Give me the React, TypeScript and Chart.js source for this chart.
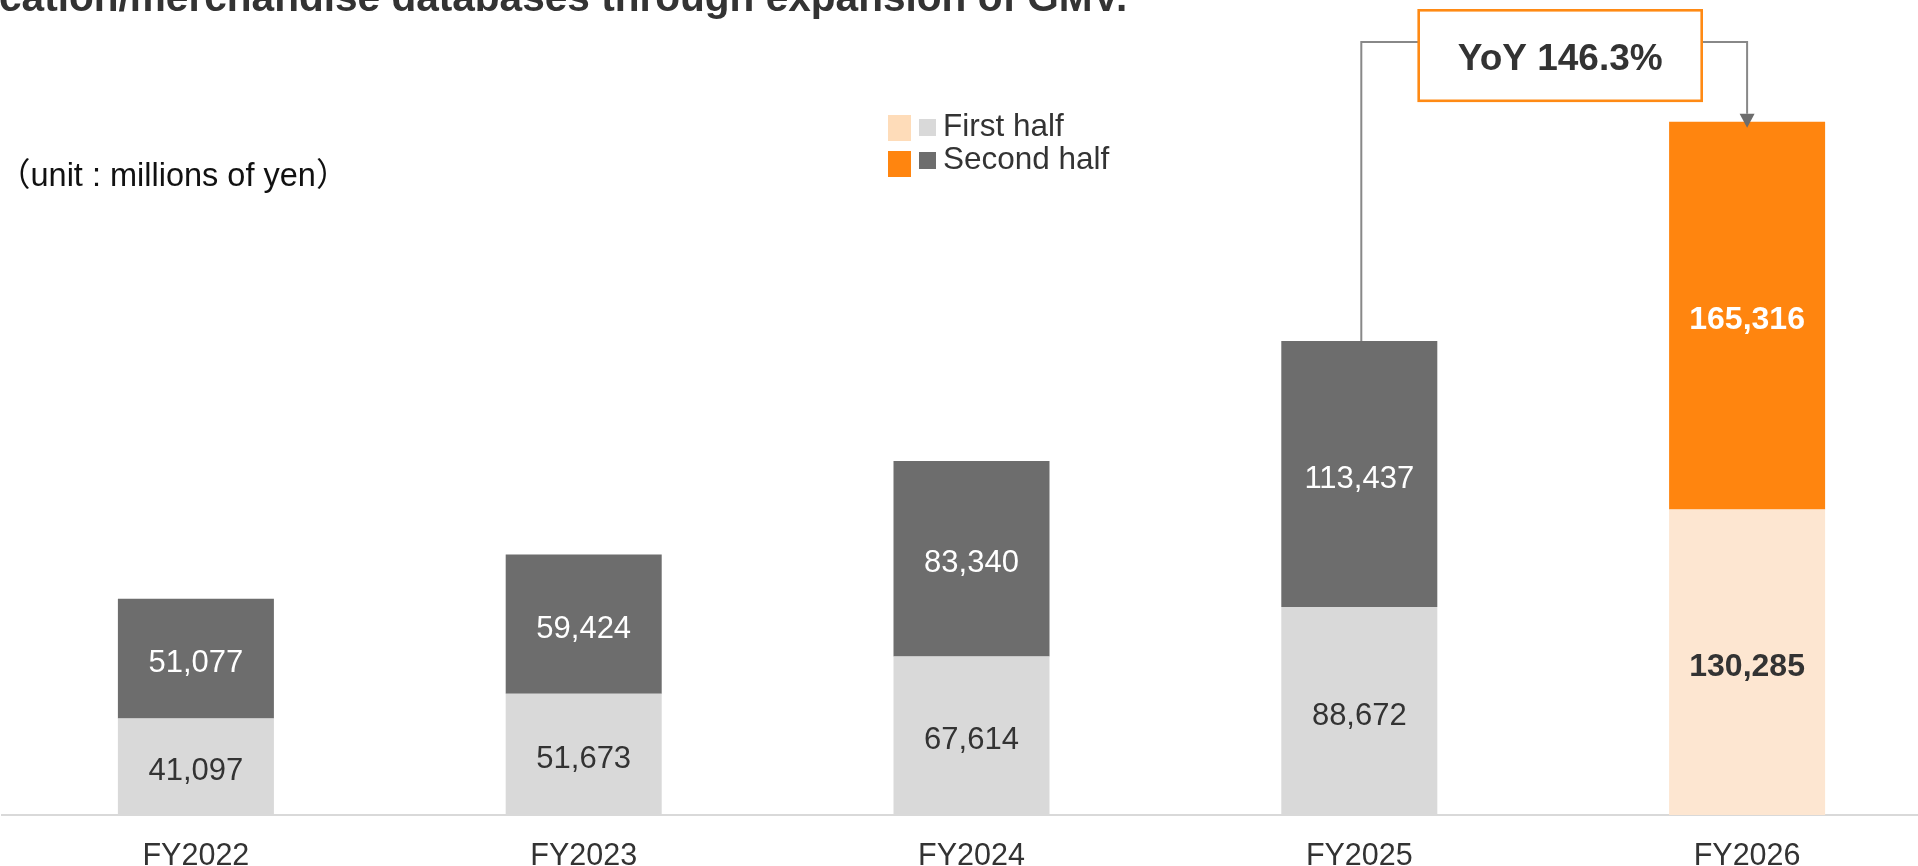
import React, { useEffect, useRef } from 'react';
import { Chart, registerables } from 'chart.js';

Chart.register(...registerables);

// ---- data ----
const categories = ['FY2022', 'FY2023', 'FY2024', 'FY2025', 'FY2026'];
const firstHalf = [41097, 51673, 67614, 88672, 130285];
const secondHalf = [51077, 59424, 83340, 113437, 165316];
const legendLabels = ['First half', 'Second half'];
const yoyLabel = 'YoY 146.3%';
const unitLabel = '（unit : millions of yen）';
const titleText = 'cation/merchandise databases through expansion of GMV.';
const yMax = 347500;

// ---- styles ----
const FONT = "'Liberation Sans', Arial, 'Noto Sans CJK JP', sans-serif";
const GRAY_LIGHT = '#d9d9d9';
const GRAY_DARK = '#6d6d6d';
const PEACH = '#fde6d1';
const ORANGE = '#ff850f';
const TEXT = '#333333';
const W = 1941;
const H = 866;

const firstColors = categories.map((_, i) => (i === categories.length - 1 ? PEACH : GRAY_LIGHT));
const secondColors = categories.map((_, i) => (i === categories.length - 1 ? ORANGE : GRAY_DARK));

const labelPlugin = {
  id: 'barLabels',
  afterDatasetsDraw(chart: any) {
    const ctx = chart.ctx;
    ctx.save();
    chart.data.datasets.forEach((ds: any, di: number) => {
      const meta = chart.getDatasetMeta(di);
      meta.data.forEach((bar: any, i: number) => {
        const p = bar.getProps(['x', 'y', 'base'], true);
        const hl = i === categories.length - 1;
        ctx.font = `${hl ? 'bold 32px' : '31px'} ${FONT}`;
        ctx.fillStyle = di === 0 ? TEXT : '#ffffff';
        ctx.textAlign = 'center';
        ctx.textBaseline = 'middle';
        ctx.fillText(Number(ds.data[i]).toLocaleString('en-US'), p.x, (p.y + p.base) / 2 + 5);
      });
    });
    ctx.restore();
  },
};

const decorPlugin = {
  id: 'decor',
  afterDraw(chart: any) {
    const ctx = chart.ctx;
    const xs = chart.scales.x;
    const ys = chart.scales.y;
    ctx.save();

    // title (cropped)
    ctx.font = `bold 40.6px ${FONT}`;
    ctx.fillStyle = TEXT;
    ctx.textAlign = 'left';
    ctx.textBaseline = 'alphabetic';
    ctx.fillText(titleText, -1, 11);

    // unit label
    ctx.font = `32.5px ${FONT}`;
    ctx.fillStyle = '#111111';
    ctx.fillText(unitLabel, -2, 186);

    // legend
    const rows = [
      { big: '#fedcb9', small: GRAY_LIGHT, top: 115, base: 136 },
      { big: ORANGE, small: GRAY_DARK, top: 151, base: 169 },
    ];
    rows.forEach((r, i) => {
      ctx.fillStyle = r.big;
      ctx.fillRect(888, r.top, 23, 26);
      ctx.fillStyle = r.small;
      ctx.fillRect(919, r.base - 17, 17, 17);
      ctx.fillStyle = TEXT;
      ctx.font = `31.5px ${FONT}`;
      ctx.fillText(legendLabels[i], 943, r.base);
    });

    // YoY annotation
    const n = categories.length;
    const x25 = xs.getPixelForValue(n - 2);
    const x26 = xs.getPixelForValue(n - 1);
    const y25 = ys.getPixelForValue(firstHalf[n - 2] + secondHalf[n - 2]);
    const y26 = ys.getPixelForValue(firstHalf[n - 1] + secondHalf[n - 1]);
    const cx = (x25 + x26) / 2 + 7;
    const bw = 283;
    const left = cx - bw / 2;
    const top = 10.3;
    const bh = 90.5;
    const lineY = 42;

    ctx.strokeStyle = '#888888';
    ctx.lineWidth = 2;
    ctx.beginPath();
    ctx.moveTo(left, lineY);
    ctx.lineTo(x25 + 2, lineY);
    ctx.lineTo(x25 + 2, y25);
    ctx.stroke();
    ctx.beginPath();
    ctx.moveTo(left + bw, lineY);
    ctx.lineTo(x26, lineY);
    ctx.lineTo(x26, y26 - 8);
    ctx.stroke();
    ctx.fillStyle = GRAY_DARK;
    ctx.beginPath();
    ctx.moveTo(x26 - 7.5, y26 - 8);
    ctx.lineTo(x26 + 7.5, y26 - 8);
    ctx.lineTo(x26, y26 + 6);
    ctx.closePath();
    ctx.fill();

    ctx.fillStyle = '#ffffff';
    ctx.fillRect(left, top, bw, bh);
    ctx.strokeStyle = '#ff8a14';
    ctx.lineWidth = 2.6;
    ctx.strokeRect(left, top, bw, bh);
    ctx.fillStyle = TEXT;
    ctx.font = `bold 37px ${FONT}`;
    ctx.textAlign = 'center';
    ctx.fillText(yoyLabel, cx, 70);

    ctx.restore();
  },
};

export default function App() {
  const ref = useRef<HTMLCanvasElement>(null);
  useEffect(() => {
    if (!ref.current) return;
    const chart = new Chart(ref.current, {
      type: 'bar',
      data: {
        labels: categories,
        datasets: [
          { label: legendLabels[0], data: firstHalf, backgroundColor: firstColors, borderWidth: 0 },
          { label: legendLabels[1], data: secondHalf, backgroundColor: secondColors, borderWidth: 0 },
        ],
      },
      options: {
        responsive: false,
        animation: false,
        devicePixelRatio: 1,
        layout: { padding: { left: 2, right: 0, top: 0, bottom: 0 } },
        datasets: { bar: { categoryPercentage: 1, barPercentage: 0.4023 } },
        plugins: { legend: { display: false }, tooltip: { enabled: false } },
        scales: {
          x: {
            stacked: true,
            grid: { display: false },
            border: { display: true, color: GRAY_LIGHT, width: 2 },
            ticks: { color: TEXT, font: { family: FONT, size: 30.5 }, padding: 15 },
            afterFit: (s: any) => {
              s.height = 51;
            },
          },
          y: { stacked: true, display: false, min: 0, max: yMax },
        },
      },
      plugins: [labelPlugin, decorPlugin],
    });
    return () => chart.destroy();
  }, []);
  return (
    <div
      style={{
        position: 'fixed',
        left: 0,
        top: 0,
        width: 1918,
        height: H,
        overflow: 'hidden',
        background: '#ffffff',
      }}
    >
      <canvas ref={ref} width={W} height={H} style={{ width: W, height: H, display: 'block' }} />
    </div>
  );
}
